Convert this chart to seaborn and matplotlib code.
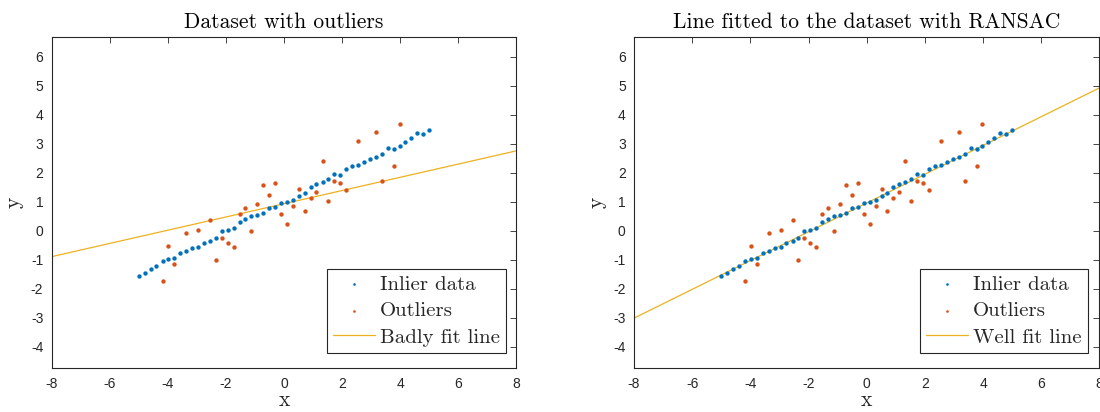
import numpy as np
import pandas as pd
import matplotlib
matplotlib.use("Agg")
import matplotlib.pyplot as plt
import seaborn as sns

# Inlier samples
inlier_x = [-5.00, -4.80, -4.59, -4.39, -4.18, -3.98, -3.78, -3.57, -3.37, -3.16,
            -2.96, -2.76, -2.55, -2.35, -2.14, -1.94, -1.73, -1.53, -1.33, -1.12,
            -0.92, -0.71, -0.51, -0.31, -0.10, 0.10, 0.31, 0.51, 0.71, 0.92,
            1.12, 1.33, 1.53, 1.73, 1.94, 2.14, 2.35, 2.55, 2.76, 2.96,
            3.16, 3.37, 3.57, 3.78, 3.98, 4.18, 4.39, 4.59, 4.80, 5.00]
inlier_y = [-1.56, -1.45, -1.31, -1.21, -1.04, -0.97, -0.93, -0.76, -0.71, -0.61,
            -0.55, -0.42, -0.37, -0.25, -0.02, 0.02, 0.08, 0.30, 0.39, 0.50,
            0.55, 0.62, 0.77, 0.83, 0.96, 0.98, 1.07, 1.21, 1.29, 1.50,
            1.62, 1.69, 1.78, 1.94, 1.91, 2.12, 2.22, 2.28, 2.36, 2.46,
            2.53, 2.63, 2.84, 2.82, 2.92, 3.05, 3.20, 3.36, 3.35, 3.48]

# Outlier samples
outlier_x = [-4.18, -3.98, -3.78, -3.37, -2.96, -2.55, -2.35, -2.14, -1.94, -1.73,
             -1.53, -1.33, -1.12, -0.92, -0.71, -0.51, -0.31, -0.10, 0.10, 0.31,
             0.51, 0.71, 0.92, 1.12, 1.33, 1.53, 1.73, 1.94, 2.14, 2.55,
             3.16, 3.37, 3.78, 3.98]
outlier_y = [-1.73, -0.52, -1.15, -0.07, 0.01, 0.36, -1.02, -0.25, -0.43, -0.56,
             0.59, 0.77, -0.01, 0.91, 1.57, 1.23, 1.63, 0.57, 0.22, 0.85,
             1.44, 0.69, 1.14, 1.32, 2.39, 1.03, 1.72, 1.63, 1.40, 3.09,
             3.41, 1.71, 2.22, 3.67]

# Fitted lines: (slope, intercept)
bad_fit = (0.228, 0.93)
good_fit = (0.496, 0.955)
line_x = [-8.0, 8.0]

titles = ["Dataset with outliers", "Line fitted to the dataset with RANSAC"]
line_labels = ["Badly fit line", "Well fit line"]
x_ticks = [-8, -6, -4, -2, 0, 2, 4, 6, 8]
y_ticks = [-4, -3, -2, -1, 0, 1, 2, 3, 4, 5, 6]

BLUE = "#0072BD"
RED = "#D95319"
YELLOW = "#EDB120"
AX_COL = "#262626"
SERIF = "cmr10"
SERIF_SIZE = 15.5
LEGEND_SIZE = 15

sns.set_theme(style="white")
plt.rcParams["font.family"] = ["Liberation Sans", "DejaVu Sans"]
plt.rcParams["axes.formatter.use_mathtext"] = True

inliers = pd.DataFrame({"x": inlier_x, "y": inlier_y})
outliers = pd.DataFrame({"x": outlier_x, "y": outlier_y})

fig = plt.figure(figsize=(11, 4.12), dpi=100)
positions = [[0.0469, 0.1056, 0.4225, 0.8053], [0.5764, 0.1056, 0.4230, 0.8053]]
legend_anchor = [(0.978, 0.047), (0.976, 0.047)]

for k, (fit, pos) in enumerate(zip([bad_fit, good_fit], positions)):
    ax = fig.add_axes(pos)
    sns.scatterplot(data=inliers, x="x", y="y", ax=ax, color=BLUE, s=10,
                    marker="o", linewidth=0, label="Inlier data", zorder=3)
    sns.scatterplot(data=outliers, x="x", y="y", ax=ax, color=RED, s=10,
                    marker="o", linewidth=0, label="Outliers", zorder=3)
    fit_df = pd.DataFrame({"x": line_x,
                           "y": [fit[0] * v + fit[1] for v in line_x]})
    sns.lineplot(data=fit_df, x="x", y="y", ax=ax, color=YELLOW, linewidth=0.9,
                 label=line_labels[k], zorder=2)

    ax.set_xlim(-8, 8)
    ax.set_ylim(-4.75, 6.69)
    ax.set_xticks(x_ticks)
    ax.set_yticks(y_ticks)
    ax.set_xticklabels([str(t) for t in x_ticks])
    ax.set_yticklabels([str(t) for t in y_ticks])
    ax.tick_params(direction="in", length=4, width=0.6, colors=AX_COL,
                   labelsize=10, top=True, right=True, pad=6)
    ax.tick_params(axis="x", pad=6)
    for sp in ax.spines.values():
        sp.set_color(AX_COL)
        sp.set_linewidth(0.8)
    ax.grid(False)
    ax.set_title(titles[k], fontfamily=SERIF, fontsize=SERIF_SIZE, color="black", pad=6)
    ax.set_xlabel("x", fontfamily=SERIF, fontsize=SERIF_SIZE, color=AX_COL, labelpad=0)
    ax.set_ylabel("y", fontfamily=SERIF, fontsize=SERIF_SIZE, color=AX_COL, labelpad=5)

    leg = ax.legend(loc="lower right", bbox_to_anchor=legend_anchor[k],
                    borderaxespad=0, frameon=True, fancybox=False,
                    edgecolor=AX_COL, framealpha=1,
                    prop={"family": SERIF, "size": LEGEND_SIZE},
                    handlelength=2.0, handletextpad=0.25, labelspacing=0.38,
                    borderpad=0.3, markerscale=0.6)
    leg.get_frame().set_linewidth(0.8)

fig.savefig("out.png", dpi=100)
